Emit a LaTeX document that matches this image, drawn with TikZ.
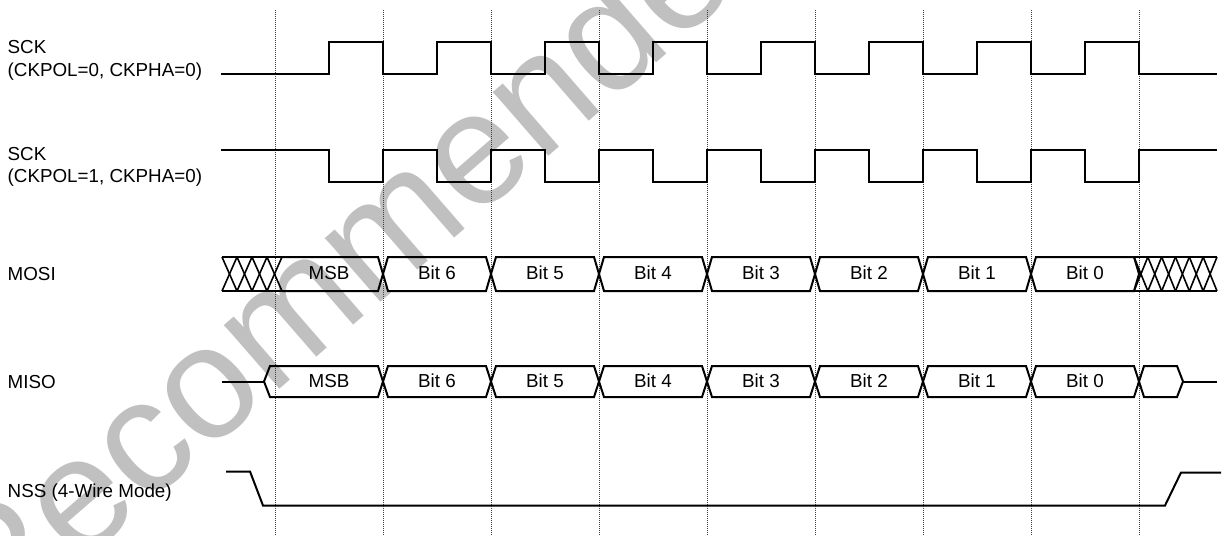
\documentclass[tikz,border=0pt]{standalone}
\usepackage{fontspec}
\setmainfont{Liberation Sans}
\begin{document}
\begin{tikzpicture}[x=1pt,y=-1pt,
  sig/.style={line width=2pt, line join=miter, line cap=butt, black},
  hatch/.style={line width=1.6pt, black},
  gridline/.style={line width=0.7pt, black!75, dash pattern=on 1pt off 1pt},
  lbl/.style={font=\fontsize{18.8}{22}\selectfont, inner sep=0pt, anchor=base west},
  bitlbl/.style={font=\fontsize{18.8}{22}\selectfont, inner sep=0pt, anchor=base},
  wm/.style={font=\fontsize{160}{160}\selectfont, text={rgb,255:red,192;green,192;blue,192}, inner sep=0pt, anchor=base west, rotate=41}]
\useasboundingbox (0,0) rectangle (1225,535);
\fill[white] (0,0) rectangle (1225,535);
% watermark
\begin{scope}
\clip (0,0) rectangle (1225,535);
\node[wm] (watermark) at (-10,642) {Recommended};
\end{scope}
% dotted guide lines
\foreach \k in {0,...,8} \draw[gridline] ({275+108*\k},10) -- ({275+108*\k},535);
% labels
\node[lbl] (sckA) at (7.5,53.5) {SCK};
\node[lbl] (sckAmode) at (7.5,76) {(CKPOL=0, CKPHA=0)};
\node[lbl] (sckB) at (7.5,160) {SCK};
\node[lbl] (sckBmode) at (7.5,182.5) {(CKPOL=1, CKPHA=0)};
\node[lbl] (mosilbl) at (7.5,280) {MOSI};
\node[lbl] (misolbl) at (7.5,388) {MISO};
\node[lbl] (nsslbl) at (7.5,497) {NSS (4-Wire Mode)};
% SCK, CKPOL=0
\draw[sig] (221,74) \foreach \k in {0,...,7} { -- ({329+108*\k},74) -- ({329+108*\k},42) -- ({383+108*\k},42) -- ({383+108*\k},74) } -- (1217,74);
\draw[line width=2.8pt] (1183,74) -- (1193,74);
% SCK, CKPOL=1
\draw[sig] (221,150) \foreach \k in {0,...,7} { -- ({329+108*\k},150) -- ({329+108*\k},182) -- ({383+108*\k},182) -- ({383+108*\k},150) } -- (1217,150);
% MOSI
\draw[hatch] (222,257) -- (282,257);
\draw[hatch] (222,291) -- (282,291);
\foreach \i in {0,...,3} {
  \draw[hatch] ({222+15*\i},257) -- ({237+15*\i},291);
  \draw[hatch] ({222+15*\i},291) -- ({237+15*\i},257);
}
\draw[sig] (282,257) -- (378,257) -- (383,274) -- (378,291) -- (282,291);
\foreach \k in {1,...,7} {
  \draw[sig] ({275+108*\k},274) -- ({280+108*\k},257) -- ({378+108*\k},257) -- ({383+108*\k},274) -- ({378+108*\k},291) -- ({280+108*\k},291) -- cycle;
}
\draw[hatch] (1134,257) -- (1217,257);
\draw[hatch] (1134,291) -- (1217,291);
\foreach \i in {0,...,5} {
  \draw[hatch] ({1134+13.83*\i},257) -- ({1147.83+13.83*\i},291);
  \draw[hatch] ({1134+13.83*\i},291) -- ({1147.83+13.83*\i},257);
}
% MISO
\draw[sig] (222,381.5) -- (264,381.5);
\draw[sig] (264,381.5) -- (270,366) -- (378,366) -- (383,381.5) -- (378,397) -- (270,397) -- cycle;
\foreach \k in {1,...,7} {
  \draw[sig] ({275+108*\k},381.5) -- ({280+108*\k},366) -- ({378+108*\k},366) -- ({383+108*\k},381.5) -- ({378+108*\k},397) -- ({280+108*\k},397) -- cycle;
}
\draw[sig] (1139,381.5) -- (1144,366) -- (1177,366) -- (1183,381.5) -- (1177,397) -- (1144,397) -- cycle;
\draw[sig] (1183,381.5) -- (1217,381.5);
% bit labels
\foreach \k/\t in {0/MSB,1/Bit 6,2/Bit 5,3/Bit 4,4/Bit 3,5/Bit 2,6/Bit 1,7/Bit 0} {
  \node[bitlbl] (mosibit\k) at ({329+108*\k},279.5) {\t};
  \node[bitlbl] (misobit\k) at ({329+108*\k},387.5) {\t};
}
% NSS
\draw[sig] (226,471.5) -- (250,471.5) -- (263,505.5) -- (1165,505.5) -- (1181,472.5) -- (1221,472.5);
\end{tikzpicture}
\end{document}
